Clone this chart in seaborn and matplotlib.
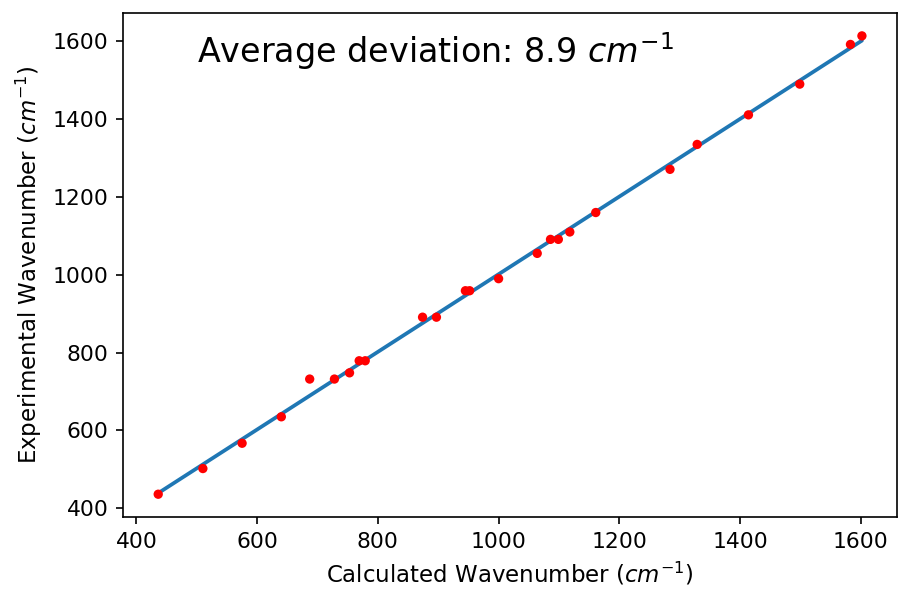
import numpy as np
import pandas as pd
import seaborn as sns
import matplotlib
matplotlib.use("Agg")
import matplotlib.pyplot as plt

# calculated vs. experimental wavenumbers (cm^-1)
calc = [436, 510, 575, 640, 687, 728, 753, 769, 779, 874, 897, 945, 952,
        1000, 1064, 1086, 1099, 1118, 1161, 1284, 1329, 1414, 1499, 1583, 1602]
exper = [436, 502, 567, 635, 732, 732, 748, 779, 779, 891, 891, 959, 959,
         990, 1055, 1091, 1091, 1110, 1160, 1271, 1335, 1411, 1490, 1592, 1614]

df = pd.DataFrame({"calc": calc, "exp": exper})
dev = np.mean(np.abs(df["exp"] - df["calc"]))

# lineare Anpassung
a, b = np.polyfit(df["calc"], df["exp"], 1)
xs = np.array([min(calc), max(calc)])
fit = pd.DataFrame({"x": xs, "y": a * xs + b})

sns.set_style("ticks")
plt.rcParams["font.family"] = ["DejaVu Sans"]
plt.rcParams["text.color"] = "black"
plt.rcParams["axes.labelcolor"] = "black"

fig = plt.figure(figsize=(898 / 150, 589 / 150), dpi=150)
ax = fig.add_axes([0.137, 0.122, 0.862, 0.856])

sns.lineplot(data=fit, x="x", y="y", ax=ax, color="#1f77b4", linewidth=1.8)
sns.scatterplot(data=df, x="calc", y="exp", ax=ax, color="red", s=20,
                edgecolor="none", zorder=3)

ax.set_xlabel("Calculated Wavenumber ($cm^{-1}$)", fontsize=11)
ax.set_ylabel("Experimental Wavenumber ($cm^{-1}$)", fontsize=11)
ax.text(500, 1545, f"Average deviation: {dev:.1f} $cm^{{-1}}$", fontsize=16,
        color="black")

for s in ax.spines.values():
    s.set_color("black")
ax.tick_params(colors="black", labelsize=10.5)

fig.savefig("out.png", dpi=150)
